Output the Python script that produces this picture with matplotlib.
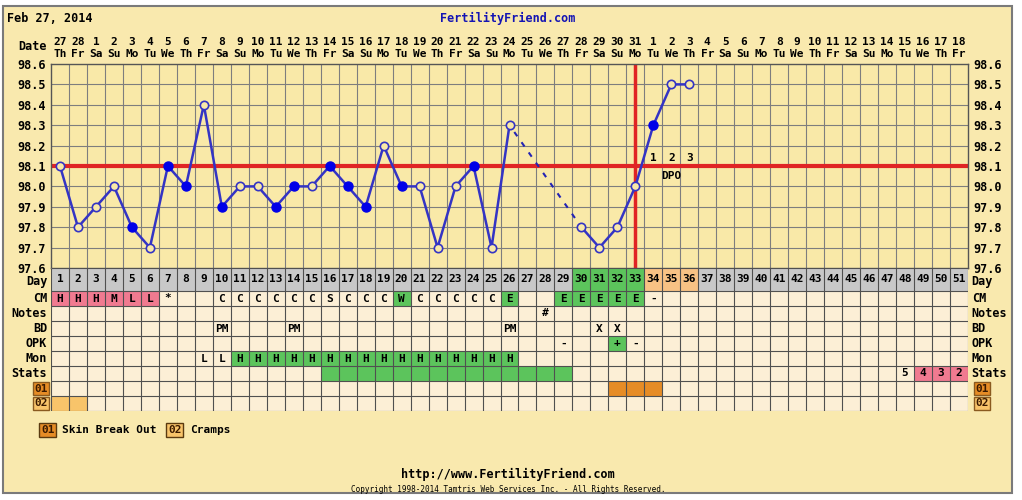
import datetime as dt
import matplotlib.pyplot as plt
import matplotlib.patches as patches
from matplotlib.transforms import blended_transform_factory
import numpy as np

# ---- data ----
start_date = dt.date(2014, 2, 27)
n_days = 51
days = list(range(1, n_days + 1))

temp_days = [1, 2, 3, 4, 5, 6, 7, 8, 9, 10, 11, 12, 13, 14, 15, 16, 17, 18, 19, 20,
             21, 22, 23, 24, 25, 26, 30, 31, 32, 33, 34, 35, 36]
temps = [98.1, 97.8, 97.9, 98.0, 97.8, 97.7, 98.1, 98.0, 98.4, 97.9, 98.0, 98.0, 97.9,
         98.0, 98.0, 98.1, 98.0, 97.9, 98.2, 98.0, 98.0, 97.7, 98.0, 98.1, 97.7, 98.3,
         97.8, 97.7, 97.8, 98.0, 98.3, 98.5, 98.5]
filled = [0, 0, 0, 0, 1, 0, 1, 1, 0, 1, 0, 0, 1, 1, 0, 1, 1, 1, 0, 1,
          0, 0, 0, 1, 0, 0, 0, 0, 0, 0, 1, 0, 0]
gap_after = 26          # dashed line over the missing days
coverline = 98.1
ovulation_day = 33
dpo_days = [34, 35, 36]
dpo_labels = ['1', '2', '3']

PINK = '#F07A90'
GREEN = '#5CC45C'
GRAY = '#C8C8C8'
PEACH = '#F8C284'
ORANGE = '#E68C26'
LORANGE = '#F8C46A'
CELL = '#FCEFD6'
BG = '#F9E9AE'
CHART_BG = '#F9E9A8'

day_colors = {30: GREEN, 31: GREEN, 32: GREEN, 33: GREEN, 34: PEACH, 35: PEACH, 36: PEACH}

row_names = ['CM', 'Notes', 'BD', 'OPK', 'Mon', 'Stats', '01', '02']
cm = [(1, 'H', PINK), (2, 'H', PINK), (3, 'H', PINK), (4, 'M', PINK), (5, 'L', PINK),
      (6, 'L', PINK), (7, '*', None), (10, 'C', None), (11, 'C', None), (12, 'C', None),
      (13, 'C', None), (14, 'C', None), (15, 'C', None), (16, 'S', None), (17, 'C', None),
      (18, 'C', None), (19, 'C', None), (20, 'W', GREEN), (21, 'C', None), (22, 'C', None),
      (23, 'C', None), (24, 'C', None), (25, 'C', None), (26, 'E', GREEN), (29, 'E', GREEN),
      (30, 'E', GREEN), (31, 'E', GREEN), (32, 'E', GREEN), (33, 'E', GREEN), (34, '-', None)]
notes = [(28, '#', None)]
bd = [(10, 'PM', None), (14, 'PM', None), (26, 'PM', None), (31, 'X', None), (32, 'X', None)]
opk = [(29, '-', None), (32, '+', GREEN), (33, '-', None)]
mon = [(9, 'L', None), (10, 'L', None)] + [(d, 'H', GREEN) for d in range(11, 27)]
stats = [(d, '', GREEN) for d in range(16, 30)] + [(48, '5', None), (49, '4', PINK),
                                                   (50, '3', PINK), (51, '2', PINK)]
sym01 = [(32, '', ORANGE), (33, '', ORANGE), (34, '', ORANGE)]
sym02 = [(1, '', LORANGE), (2, '', LORANGE)]
rows = [cm, notes, bd, opk, mon, stats, sym01, sym02]

weekdays = ['Mo', 'Tu', 'We', 'Th', 'Fr', 'Sa', 'Su']

FONT = 'DejaVu Sans Mono'
W, H = 1022, 500


def fx(px):
    return px / W


def fy(py):
    return 1 - py / H


fig = plt.figure(figsize=(W / 100, H / 100), dpi=100)
fig.patch.set_facecolor('white')

# outer panel
fig.patches.append(patches.Rectangle((fx(3), fy(493)), fx(1012) - fx(3), fy(6) - fy(493),
                                     transform=fig.transFigure, facecolor=BG,
                                     edgecolor='#7a7a7a', linewidth=1.5, zorder=-10))

# ---- temperature chart ----
ax = fig.add_axes([fx(51), fy(268), fx(968) - fx(51), fy(64) - fy(268)])
ax.set_facecolor(CHART_BG)
ax.set_xlim(0.5, n_days + 0.5)
ax.set_ylim(97.6, 98.6)
ax.vlines(np.arange(1.5, n_days + 0.5), 97.6, 98.6, color='#7e7e7e', lw=0.8, zorder=1)
ax.hlines(np.arange(97.7, 98.55, 0.1), 0.5, n_days + 0.5, color='#7e7e7e', lw=0.8, zorder=1)
ax.axhline(coverline, color='#E02424', lw=3, zorder=2)
ax.axvline(ovulation_day, color='#E02424', lw=2.5, zorder=2)

k = temp_days.index(gap_after) + 1
ax.plot(temp_days[:k], temps[:k], color='#3434C4', lw=1.8, zorder=3)
ax.plot(temp_days[k - 1:k + 1], temps[k - 1:k + 1], color='#2424B4', lw=1.5,
        ls=(2, (2.5, 3.5)), zorder=3)
ax.plot(temp_days[k:], temps[k:], color='#3434C4', lw=1.8, zorder=3)
for d, t, f in zip(temp_days, temps, filled):
    if f:
        ax.plot(d, t, 'o', ms=6.5, mfc='#0000E8', mec='#0000E8', zorder=4)
    else:
        ax.plot(d, t, 'o', ms=6, mfc=CHART_BG, mec='#3434C4', mew=1.2, zorder=4)

for d, lab in zip(dpo_days, dpo_labels):
    ax.text(d, 98.14, lab, ha='center', va='center', fontsize=8, family=FONT,
            weight='bold', zorder=5)
ax.text(dpo_days[1], 98.05, 'DPO', ha='center', va='center', fontsize=8, family=FONT,
        weight='bold', zorder=5)

yt = np.round(np.arange(97.6, 98.65, 0.1), 1)
ax.set_yticks(yt)
ax.set_yticklabels([f'{v:.1f}' for v in yt], family=FONT, weight='bold', fontsize=8.5)
ax.tick_params(axis='y', length=0, pad=4, labelright=True)
ax.set_xticks([])
for s in ax.spines.values():
    s.set_color('#555555')
    s.set_linewidth(1)

# date header
tr = blended_transform_factory(ax.transData, fig.transFigure)
for d in days:
    date = start_date + dt.timedelta(days=d - 1)
    ax.text(d, fy(42), str(date.day), transform=tr, ha='center', va='center',
            fontsize=8, family=FONT, weight='bold')
    ax.text(d, fy(54), weekdays[date.weekday()], transform=tr, ha='center', va='center',
            fontsize=8, family=FONT, weight='bold')

# ---- table ----
day_h, row_h = 23, 15
tax = fig.add_axes([fx(51), fy(411), fx(968) - fx(51), fy(268) - fy(411)])
total_h = day_h + row_h * len(rows)
tax.set_xlim(0.5, n_days + 0.5)
tax.set_ylim(total_h, 0)
tax.axis('off')

tax.bar(days, day_h, bottom=0, width=1, color=[day_colors.get(d, GRAY) for d in days],
        zorder=1)
for d in days:
    tax.text(d, day_h / 2, str(d), ha='center', va='center', fontsize=8, family=FONT,
             weight='bold', zorder=3)

row_tops = [day_h + i * row_h for i in range(len(rows))]
for top, entries in zip(row_tops, rows):
    tax.bar(days, row_h, bottom=top, width=1, color=CELL, zorder=1)
    for d, txt, col in entries:
        if col:
            tax.bar(d, row_h, bottom=top, width=1, color=col, zorder=1.5)
        if txt:
            tax.text(d, top + row_h / 2, txt, ha='center', va='center', fontsize=8,
                     family=FONT, weight='bold', zorder=3)

tax.vlines(np.arange(0.5, n_days + 1), 0, total_h, color='#505050', lw=0.8, zorder=2)
tax.hlines([0, day_h] + [t + row_h for t in row_tops], 0.5, n_days + 0.5,
           color='#505050', lw=0.8, zorder=2)

# row labels both sides
ttr = blended_transform_factory(tax.transAxes, tax.transData)
labels = ['Day'] + row_names
centers = [day_h / 2 + 2] + [t + row_h / 2 for t in row_tops]
box_cols = {'01': ORANGE, '02': LORANGE}
for lab, cy in zip(labels, centers):
    if lab in box_cols:
        bb = dict(boxstyle='square,pad=0.12', fc=box_cols[lab], ec='#8a5a20', lw=1)
        tax.text(-0.0035, cy, lab, transform=ttr, ha='right', va='center', fontsize=8,
                 family=FONT, weight='bold', color='#3a1a00', bbox=bb)
        tax.text(1.0075, cy, lab, transform=ttr, ha='left', va='center', fontsize=8,
                 family=FONT, weight='bold', color='#3a1a00', bbox=bb)
    else:
        tax.text(-0.004, cy, lab, transform=ttr, ha='right', va='center', fontsize=8.5,
                 family=FONT, weight='bold')
        tax.text(1.004, cy, lab, transform=ttr, ha='left', va='center', fontsize=8.5,
                 family=FONT, weight='bold')

# ---- header / legend / footer ----
fig.text(fx(7), fy(18), 'Feb 27, 2014', ha='left', va='center', fontsize=8.5,
         family=FONT, weight='bold')
fig.text(fx(508), fy(18), 'FertilityFriend.com', ha='center', va='center', fontsize=8.5,
         family=FONT, weight='bold', color='#1414B4')
fig.text(fx(47), fy(47), 'Date', ha='right', va='center', fontsize=8.5, family=FONT,
         weight='bold')

fig.text(fx(41), fy(430), '01', ha='left', va='center', fontsize=8, family=FONT,
         weight='bold', color='#3a1a00',
         bbox=dict(boxstyle='square,pad=0.15', fc=ORANGE, ec='#5a3a10'))
fig.text(fx(62), fy(430), 'Skin Break Out', ha='left', va='center', fontsize=8,
         family=FONT, weight='bold')
fig.text(fx(168), fy(430), '02', ha='left', va='center', fontsize=8, family=FONT,
         weight='bold', color='#3a1a00',
         bbox=dict(boxstyle='square,pad=0.15', fc=LORANGE, ec='#5a3a10'))
fig.text(fx(190), fy(430), 'Cramps', ha='left', va='center', fontsize=8, family=FONT,
         weight='bold')

fig.text(fx(508), fy(474), 'http://www.FertilityFriend.com', ha='center', va='center',
         fontsize=8.5, family=FONT, weight='bold')
fig.text(fx(508), fy(489), 'Copyright 1998-2014 Tamtris Web Services Inc. - All Rights Reserved.',
         ha='center', va='center', fontsize=5.5, family=FONT)

plt.savefig('out.png', dpi=100, facecolor='white')
plt.close()
